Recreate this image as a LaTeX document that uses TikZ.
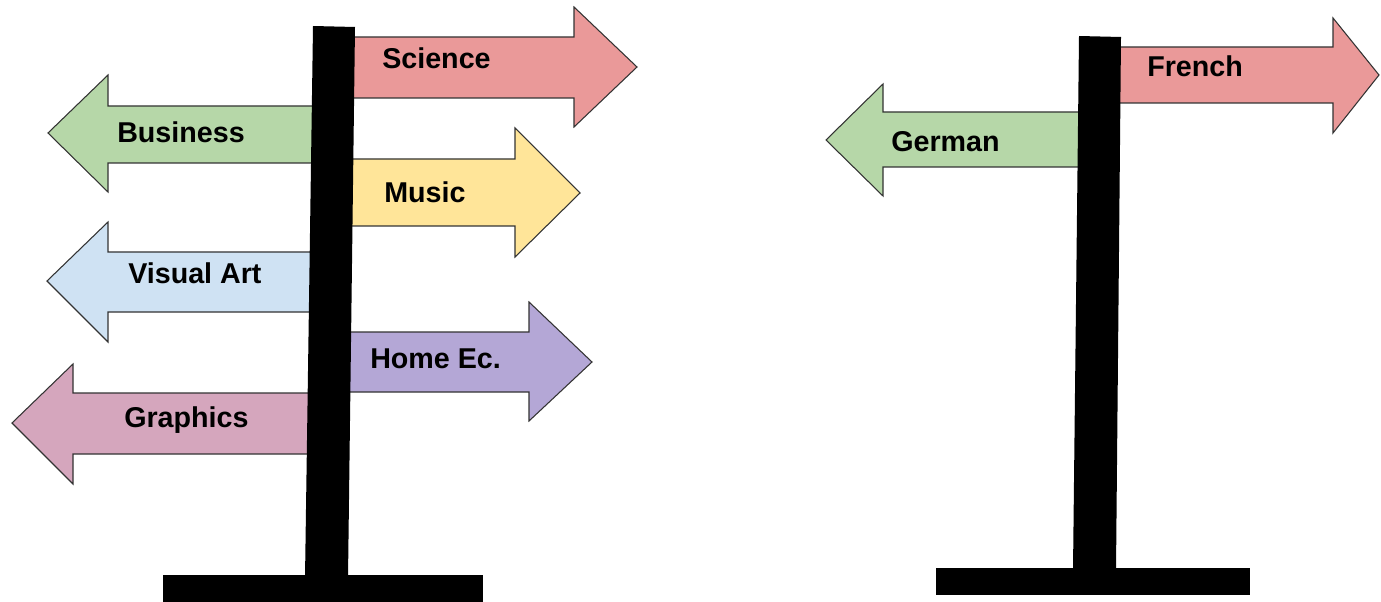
\documentclass[tikz,border=0pt]{standalone}
\usepackage{fontspec}
\setmainfont{Liberation Sans}
\definecolor{sred}{HTML}{EA9999}
\definecolor{sgreen}{HTML}{B6D7A8}
\definecolor{syellow}{HTML}{FFE599}
\definecolor{sblue}{HTML}{CFE2F3}
\definecolor{spurple}{HTML}{B4A7D6}
\definecolor{spink}{HTML}{D5A6BD}
\definecolor{edge}{HTML}{333333}
\tikzset{
  signarrow/.style={draw=edge, line width=0.8pt, line join=miter},
  post/.style={fill=black, draw=none},
  lbl/.style={font=\fontsize{21.5}{24}\selectfont\bfseries, text=black, inner sep=0pt, anchor=base west}
}
% right arrow: #1 fill, #2 x start, #3 shaft top, #4 shaft bottom, #5 head base x, #6 head top, #7 head bottom, #8 tip x, #9 tip y
\newcommand{\signRight}[9]{\draw[signarrow, fill=#1] (#2,#3) -- (#5,#3) -- (#5,#6) -- (#8,#9) -- (#5,#7) -- (#5,#4) -- (#2,#4) -- cycle;}
\begin{document}
\begin{tikzpicture}[x=0.75pt, y=-0.75pt]
\useasboundingbox (0,0) rectangle (1381,602);
% left sign arrows (right-pointing)
\signRight{sred}{340}{37}{98}{574}{7}{127}{637}{67}
\signRight{syellow}{340}{159}{226}{515}{128}{257}{580}{193}
\signRight{spurple}{340}{332}{392}{529}{302}{421}{592}{362}
% left-pointing (start x, tip x negative direction)
\signRight{sgreen}{322}{106}{163}{108}{75}{192}{48}{133}
\signRight{sblue}{322}{252}{312}{108}{222}{342}{47}{281}
\signRight{spink}{322}{393}{454}{73}{364}{484}{12}{423}
% right sign
\signRight{sred}{1110}{47}{103}{1333}{18}{133}{1379}{75}
\signRight{sgreen}{1090}{112}{167}{883}{84}{196}{826}{140}
% posts
\fill[post] (313,26) -- (355,27) -- (348,578) -- (305,578) -- cycle;
\fill[post] (163,575) rectangle (483,602);
\fill[post] (1079,36) -- (1121,37) -- (1116,570) -- (1073,570) -- cycle;
\fill[post] (936,568) rectangle (1250,595);
% labels
\node[lbl] (science) at (382,69) {Science};
\node[lbl] (music) at (384,203) {Music};
\node[lbl] (homeec) at (370,368) {Home Ec.};
\node[lbl] (business) at (117,143) {Business};
\node[lbl] (visualart) at (128,283) {Visual Art};
\node[lbl] (graphics) at (124,427) {Graphics};
\node[lbl] (french) at (1147,77) {French};
\node[lbl] (german) at (891,152) {German};
\end{tikzpicture}
\end{document}
